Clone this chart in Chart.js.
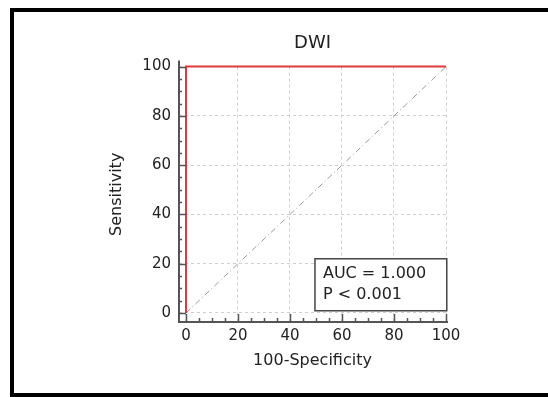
<!DOCTYPE html>
<html>
<head>
<meta charset="utf-8">
<script src="https://cdn.jsdelivr.net/npm/chart.js@4/dist/chart.umd.min.js"></script>
<style>
    body { margin: 0; background: #fff; }
    #wrap { position: relative; width: 548px; height: 397px; overflow: hidden; }
    #frame { position: absolute; left: 10px; top: 8px; width: 560px; height: 381px; border: 4px solid #000; }
    #chart { position: absolute; left: 0; top: 0; }
</style>
</head>
<body>
<div id="wrap">
    <div id="frame"></div>
    <canvas id="chart" width="548" height="397"></canvas>
</div>
<script>
// ROC curve points (100-Specificity, Sensitivity)
var rocX = [0, 0, 100];
var rocY = [0, 100, 100];
// reference diagonal
var refX = [0, 100];
var refY = [0, 100];
var tickValues = [0, 5, 10, 15, 20, 25, 30, 35, 40, 45, 50, 55, 60, 65, 70, 75, 80, 85, 90, 95, 100];
var labelStep = 20;
var chartTitle = "DWI";
var xTitle = "100-Specificity";
var yTitle = "Sensitivity";
var boxLines = ["AUC = 1.000", "P < 0.001"];

function toPoints(xs, ys) {
    var pts = [];
    for (var i = 0; i < xs.length; i++) {
        pts.push({x: xs[i], y: ys[i]});
    }
    return pts;
}

function setTicks(scale) {
    scale.ticks = tickValues.map(function (v) { return {value: v}; });
}

function gridColor(ctx) {
    return ctx.tick && ctx.tick.value % labelStep === 0 ? "#cfcfcf" : "rgba(0,0,0,0)";
}

function tickLabel(v) {
    return v % labelStep === 0 ? String(v) : "";
}

// axis lines with inward tick marks, and the AUC box
var axisPlugin = {
    id: "axisPlugin",
    afterDatasetsDraw: function (chart) {
        var ctx = chart.ctx;
        var a = chart.chartArea;
        var xs = chart.scales.x, ys = chart.scales.y;
        ctx.save();
        ctx.strokeStyle = "#555";
        ctx.lineWidth = 2;
        ctx.beginPath();
        ctx.moveTo(a.left, a.top - 6);
        ctx.lineTo(a.left, a.bottom);
        ctx.lineTo(xs.getPixelForValue(100) + 2, a.bottom);
        ctx.stroke();
        ctx.lineWidth = 1.5;
        ctx.beginPath();
        tickValues.forEach(function (v) {
            var major = v % labelStep === 0;
            var py = Math.round(ys.getPixelForValue(v)) + 0.5;
            ctx.moveTo(a.left, py);
            ctx.lineTo(a.left + (major ? 7 : 3), py);
            var px = Math.round(xs.getPixelForValue(v)) + 0.5;
            ctx.moveTo(px, a.bottom);
            ctx.lineTo(px, a.bottom - (major ? 8 : 4));
        });
        ctx.stroke();

        // AUC box
        var bx1 = xs.getPixelForValue(49.6), bx2 = xs.getPixelForValue(100.3);
        var by1 = ys.getPixelForValue(22), by2 = ys.getPixelForValue(0.9);
        ctx.fillStyle = "#fff";
        ctx.fillRect(bx1, by1, bx2 - bx1, by2 - by1);
        ctx.strokeStyle = "#444";
        ctx.lineWidth = 1.5;
        ctx.strokeRect(bx1, by1, bx2 - bx1, by2 - by1);
        ctx.fillStyle = "#222";
        ctx.font = "16px 'DejaVu Sans'";
        ctx.textBaseline = "alphabetic";
        ctx.textAlign = "left";
        for (var i = 0; i < boxLines.length; i++) {
            ctx.fillText(boxLines[i], bx1 + 8, by1 + 19 + i * 21.5);
        }
        ctx.restore();
    }
};

var canvas = document.getElementById("chart");
var chart = new Chart(canvas, {
    type: "scatter",
    data: {
        datasets: [
            {
                data: toPoints(refX, refY),
                showLine: true,
                borderColor: "#9a9a9a",
                borderWidth: 1,
                borderDash: [6, 3, 1, 3],
                pointRadius: 0,
                order: 2
            },
            {
                data: toPoints(rocX, rocY),
                showLine: true,
                borderColor: "#dd3b3b",
                borderWidth: 2,
                pointRadius: 0,
                clip: 4,
                order: 1
            }
        ]
    },
    options: {
        responsive: false,
        animation: false,
        layout: {padding: {left: 0, right: 102, top: 0, bottom: 0}},
        plugins: {
            legend: {display: false},
            tooltip: {enabled: false},
            title: {
                display: true,
                text: chartTitle,
                fullSize: false,
                color: "#222",
                font: {family: "DejaVu Sans", size: 18, weight: "normal"},
                padding: {top: 33, bottom: 12}
            }
        },
        scales: {
            x: {
                type: "linear",
                min: -2.69,
                max: 100,
                afterBuildTicks: setTicks,
                afterFit: function (s) { s.height = 75; },
                grid: {color: gridColor, lineWidth: 1, drawTicks: false},
                border: {display: false, dash: [3, 3]},
                ticks: {
                    autoSkip: false,
                    maxRotation: 0,
                    padding: 5,
                    color: "#222",
                    font: {family: "DejaVu Sans", size: 15},
                    callback: tickLabel
                },
                title: {
                    display: true,
                    text: xTitle,
                    color: "#222",
                    font: {family: "DejaVu Sans", size: 16},
                    padding: {top: 0, bottom: 27}
                }
            },
            y: {
                type: "linear",
                min: -3.66,
                max: 100,
                afterBuildTicks: setTicks,
                afterFit: function (s) { s.width = 179; },
                grid: {color: gridColor, lineWidth: 1, drawTicks: false},
                border: {display: false, dash: [3, 3]},
                ticks: {
                    autoSkip: false,
                    padding: 8,
                    color: "#222",
                    font: {family: "DejaVu Sans", size: 15},
                    callback: tickLabel
                },
                title: {
                    display: true,
                    text: yTitle,
                    color: "#222",
                    font: {family: "DejaVu Sans", size: 16},
                    padding: {top: 107, bottom: 0}
                }
            }
        }
    },
    plugins: [axisPlugin]
});
</script>
</body>
</html>
